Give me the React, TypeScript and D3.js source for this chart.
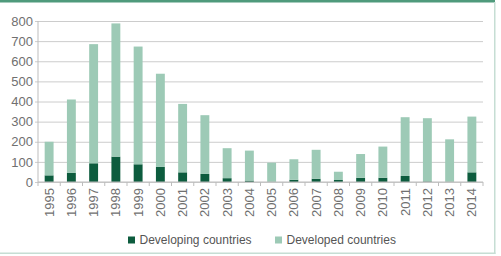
import { useEffect, useRef } from "react";
import * as d3 from "d3";

const years = [
  "1995", "1996", "1997", "1998", "1999", "2000", "2001", "2002", "2003", "2004",
  "2005", "2006", "2007", "2008", "2009", "2010", "2011", "2012", "2013", "2014",
];
const developing = [33, 45, 93, 126, 88, 75, 48, 40, 19, 7, 0, 11, 16, 10, 21, 21, 30, 3, 0, 48];
const developed = [167, 365, 592, 662, 585, 463, 340, 292, 149, 149, 96, 102, 144, 41, 118, 155, 292, 314, 212, 277];
const yTicks = [0, 100, 200, 300, 400, 500, 600, 700, 800];
const seriesNames = ["Developing countries", "Developed countries"];

const DARK = "#0d5c3e";
const LIGHT = "#9dcab6";
const FONT = "'Liberation Sans', Arial, sans-serif";

export default function App() {
  const ref = useRef<SVGSVGElement>(null);

  useEffect(() => {
    if (!ref.current) return;
    const root = d3.select(ref.current);
    root.selectAll("*").remove();

    const W = 501;
    const H = 256;
    const margin = { top: 21, right: 18, bottom: 74, left: 38 };
    const width = W - margin.left - margin.right;
    const height = H - margin.top - margin.bottom;

    // frame: dark band on top, light lines on right and bottom
    root.append("rect").attr("x", 0).attr("y", 0).attr("width", 495).attr("height", 2.5).attr("fill", "#4f9a7c");
    root.append("rect").attr("x", 494).attr("y", 2).attr("width", 1.5).attr("height", 252).attr("fill", "#c6ded4");
    root.append("rect").attr("x", 0).attr("y", 252.5).attr("width", 495.5).attr("height", 1.5).attr("fill", "#c6ded4");

    const svg = root.append("g").attr("transform", `translate(${margin.left},${margin.top})`);

    const x = d3.scaleBand().domain(years).range([0, width]).paddingInner(0.6).paddingOuter(0.3);
    const y = d3.scaleLinear().domain([0, 800]).range([height, 0]);

    // horizontal gridlines with labels
    svg
      .append("g")
      .call(d3.axisLeft(y).tickValues(yTicks).tickSize(-width).tickSizeOuter(0).tickPadding(5))
      .call((g) => g.select(".domain").remove())
      .call((g) => g.selectAll(".tick line").attr("stroke", "#cccccc").attr("x1", -3))
      .call((g) =>
        g
          .selectAll(".tick text")
          .attr("fill", "#707070")
          .style("font-family", FONT)
          .style("font-size", "13px")
      );

    // vertical axis line
    svg.append("line").attr("x1", 0).attr("x2", 0).attr("y1", 0).attr("y2", height).attr("stroke", "#bdbdbd");

    const stackData = years.map((yr, i) => ({ year: yr, developing: developing[i], developed: developed[i] }));
    const stack = d3.stack<any>().keys(["developing", "developed"])(stackData);
    const colors = [DARK, LIGHT];

    svg
      .selectAll(".layer")
      .data(stack)
      .enter()
      .append("g")
      .attr("fill", (_, i) => colors[i])
      .selectAll("rect")
      .data((d) => d)
      .enter()
      .append("rect")
      .attr("x", (d: any) => x(d.data.year) || 0)
      .attr("y", (d) => y(d[1]))
      .attr("width", x.bandwidth())
      .attr("height", (d) => y(d[0]) - y(d[1]));

    // bottom axis line with ticks between categories
    const xAxis = svg.append("g").attr("transform", `translate(0,${height})`);
    xAxis.append("line").attr("x1", 0).attr("x2", width).attr("stroke", "#bdbdbd");
    xAxis
      .selectAll(".sep")
      .data(d3.range(years.length + 1))
      .enter()
      .append("line")
      .attr("x1", (i) => (i * width) / years.length)
      .attr("x2", (i) => (i * width) / years.length)
      .attr("y1", 0)
      .attr("y2", 4)
      .attr("stroke", "#bdbdbd");

    xAxis
      .selectAll(".yr")
      .data(years)
      .enter()
      .append("text")
      .attr("transform", (d) => `translate(${(x(d) || 0) + x.bandwidth() / 2 + 4.5},6) rotate(-90)`)
      .attr("text-anchor", "end")
      .attr("fill", "#707070")
      .style("font-family", FONT)
      .style("font-size", "13px")
      .text((d) => d);

    // legend
    const legend = root.append("g").attr("transform", "translate(0,240)");
    const legendX = [128, 275];
    seriesNames.forEach((name, i) => {
      legend
        .append("rect")
        .attr("x", legendX[i])
        .attr("y", -3.5)
        .attr("width", 7)
        .attr("height", 7)
        .attr("fill", colors[i]);
      legend
        .append("text")
        .attr("x", legendX[i] + 11.5)
        .attr("y", 4.3)
        .attr("fill", "#555555")
        .style("font-family", FONT)
        .style("font-size", "12px")
        .text(name);
    });
  }, []);

  return (
    <svg
      ref={ref}
      width={501}
      height={256}
      style={{ position: "absolute", left: 0, top: 0, background: "#ffffff" }}
    />
  );
}
